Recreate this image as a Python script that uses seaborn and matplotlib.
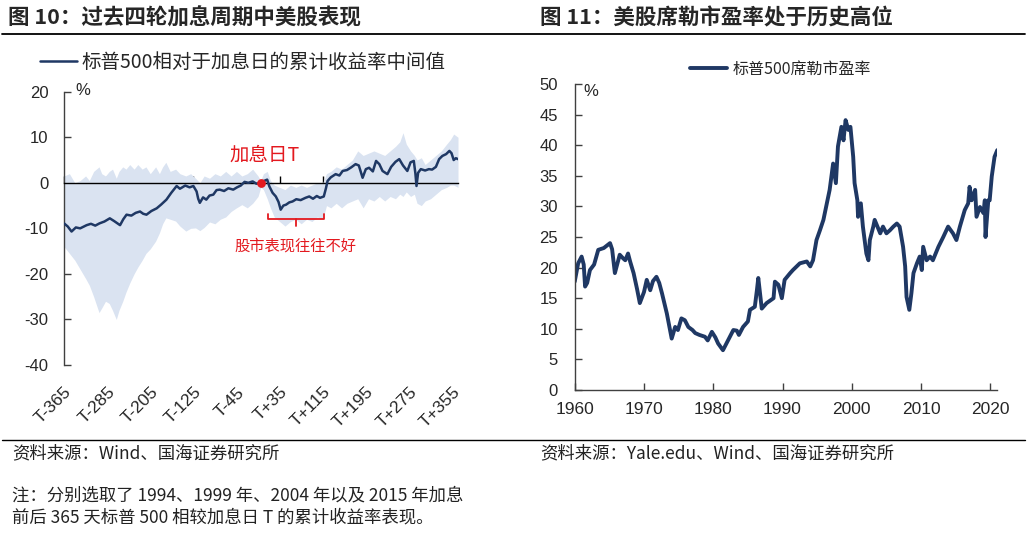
import matplotlib
matplotlib.use('Agg')
import matplotlib.pyplot as plt
import seaborn as sns
from matplotlib.lines import Line2D
from matplotlib.font_manager import FontProperties

# ---- left chart: S&P 500 cumulative return around rate-hike day (median of 4 cycles) ----
med_days = [-365, -358, -351, -343, -335, -323, -315, -307, -299, -290, -280, -272, -261,
            -255, -249, -240, -232, -224, -218, -212, -203, -193, -185, -175, -166, -156,
            -150, -147, -140, -132, -125, -119, -116, -113, -107, -101, -95, -88, -82, -76,
            -68, -60, -51, -44, -37, -30, -23, -15, -8, 0, 6, 12, 16, 22, 28, 33, 37, 42,
            47, 53, 59, 66, 74, 83, 90, 97, 104, 110, 117, 121, 124, 130, 139, 146, 152,
            160, 168, 176, 182, 189, 195, 201, 208, 214, 220, 226, 235, 242, 250, 257, 264,
            272, 278, 284, 287, 289, 292, 297, 305, 312, 318, 325, 331, 337, 344, 350, 354,
            358, 362, 366]
med_vals = [-8.9, -9.6, -10.7, -9.8, -10.0, -9.3, -9.0, -9.4, -8.9, -8.5, -7.8, -8.4, -9.3,
            -8.0, -7.0, -7.2, -6.6, -6.3, -6.8, -7.0, -6.2, -5.6, -4.8, -3.7, -2.2, -0.7,
            -1.3, -1.1, -0.6, -1.0, -0.7, -1.9, -3.5, -4.4, -3.2, -3.7, -2.8, -2.6, -1.6, -1.5,
            -1.8, -1.2, -1.5, -1.0, -0.6, 0.2, 0.0, 0.3, -0.2, 0.0, 0.4, 0.7, -0.8, -2.2, -3.0,
            -4.2, -5.9, -5.0, -4.8, -4.3, -4.1, -3.6, -3.8, -3.3, -3.0, -3.5, -2.9, -3.3, -3.0,
            -1.2, 0.4, 1.2, 1.9, 1.6, 2.6, 2.8, 3.4, 4.1, 3.8, 1.1, 3.0, 3.3, 2.5, 4.8, 4.1,
            2.6, 1.9, 3.5, 4.6, 5.2, 3.8, 2.6, 4.5, 4.8, 2.0, -0.7, 2.2, 3.0, 2.7, 3.0, 2.9,
            3.5, 5.2, 5.9, 6.3, 7.0, 6.5, 5.0, 5.4, 5.2]

band_days = [-365, -355, -345, -335, -325, -318, -310, -300, -295, -288, -281, -275, -268,
             -263, -256, -250, -243, -235, -228, -220, -213, -205, -195, -188, -182, -176,
             -168, -158, -150, -139, -130, -121, -113, -105, -95, -85, -75, -65, -55, -45,
             -35, -25, -15, -5, 0, 5, 12, 18, 25, 35, 45, 55, 65, 75, 85, 95, 105, 115, 122,
             130, 140, 150, 160, 170, 180, 190, 200, 210, 220, 230, 240, 250, 258, 264, 270,
             278, 285, 290, 298, 305, 315, 325, 335, 345, 352, 358, 366]
band_hi = [1.5, 2.0, 0.0, 0.5, 1.5, 0.5, 2.5, 3.5, 2.0, 1.5, 2.5, 3.0, 1.0, 2.5, 3.5, 3.0,
           4.0, 3.0, 4.0, 3.0, 3.5, 2.0, 3.5, 2.0, 3.5, 4.5, 2.5, 3.0, 2.0, 1.5, 2.0, 1.0,
           0.0, 1.5, 1.0, 2.0, 1.5, 2.5, 1.5, 2.5, 1.5, 2.0, 3.0, 1.5, 0.5, 2.0, 2.5, 0.5,
           -0.5, -1.0, -1.5, -0.5, -1.0, -0.5, -1.0, -0.5, 0.0, 0.0, 2.0, 2.5, 3.5, 3.0, 4.0,
           5.0, 7.0, 6.0, 6.5, 7.0, 6.5, 6.0, 7.0, 8.0, 9.0, 11.0, 8.5, 7.0, 6.0, 5.0, 5.5,
           4.0, 5.0, 6.0, 7.0, 8.5, 9.5, 10.7, 10.0]
band_lo = [-14.0, -15.5, -17.0, -19.0, -21.0, -22.5, -25.0, -28.5, -27.5, -26.0, -26.5, -28.0,
           -30.0, -28.0, -26.0, -24.0, -22.0, -20.0, -18.5, -17.0, -15.5, -14.5, -12.8, -11.0,
           -9.0, -7.7, -8.0, -8.4, -9.5, -10.6, -10.0, -9.9, -10.5, -9.8, -8.6, -9.0, -8.0,
           -7.5, -6.3, -5.5, -4.8, -5.5, -4.5, -3.0, -1.0, -1.5, -3.5, -5.5, -7.5, -8.5, -9.5,
           -8.5, -8.0, -9.0, -8.0, -8.5, -7.5, -8.0, -5.0, -5.5, -4.5, -5.5, -4.5, -4.0, -3.5,
           -5.5, -3.5, -4.0, -3.0, -4.0, -3.0, -3.5, -2.5, -3.0, -2.0, -3.0, -2.5, -4.5, -5.0,
           -4.0, -3.5, -2.5, -1.5, -1.0, -0.5, -0.5, -1.0]

left_xticks = [-365, -285, -205, -125, -45, 35, 115, 195, 275, 355]
left_xlabels = ['T-365', 'T-285', 'T-205', 'T-125', 'T-45', 'T+35', 'T+115', 'T+195',
                'T+275', 'T+355']

# ---- right chart: Shiller CAPE ----
pe_year = [1960.0, 1960.5, 1961.0, 1961.3, 1961.5, 1961.8, 1962.2, 1962.8, 1963.4, 1964.2,
           1965.1, 1965.4, 1965.8, 1966.5, 1967.0, 1967.3, 1967.7, 1968.0, 1968.5, 1969.0,
           1969.4, 1970.0, 1970.4, 1970.9, 1971.3, 1971.8, 1972.2, 1972.6, 1973.3, 1974.0,
           1974.5, 1974.9, 1975.4, 1975.9, 1976.4, 1977.0, 1977.4, 1978.0, 1978.8, 1979.2,
           1979.8, 1980.3, 1980.7, 1981.4, 1982.0, 1982.4, 1982.9, 1983.4, 1983.7, 1984.3,
           1985.0, 1985.3, 1986.0, 1986.3, 1986.5, 1987.0, 1987.7, 1988.7, 1988.9, 1989.4,
           1989.9, 1990.3, 1991.1, 1991.5, 1992.5, 1993.5, 1994.0, 1994.4, 1994.9, 1995.4,
           1995.9, 1996.4, 1996.8, 1997.3, 1997.7, 1998.0, 1998.5, 1998.8, 1999.1, 1999.5,
           1999.8, 2000.2, 2000.4, 2000.8, 2000.9, 2001.3, 2001.6, 2002.1, 2002.4, 2002.6,
           2003.1, 2003.3, 2004.1, 2004.5, 2005.0, 2005.5, 2006.0, 2006.5, 2006.9, 2007.4,
           2007.7, 2007.9, 2008.3, 2008.6, 2008.9, 2009.4, 2009.8, 2010.1, 2010.3, 2010.8,
           2011.3, 2011.7, 2012.5, 2013.2, 2013.9, 2014.6, 2015.1, 2015.6, 2016.3, 2016.8,
           2017.0, 2017.3, 2017.8, 2018.0, 2018.5, 2019.0, 2019.2, 2019.3, 2019.7, 2019.9,
           2020.2, 2020.4, 2020.6, 2021.0]
pe_val = [17.7, 20.7, 21.8, 20.5, 16.9, 17.5, 19.6, 20.5, 22.9, 23.2,
          24.0, 23.0, 19.1, 22.1, 21.5, 21.2, 22.3, 21.0, 19.1, 16.5,
          14.2, 16.0, 18.0, 16.3, 17.8, 18.5, 17.5, 15.8, 12.5, 8.4,
          10.3, 9.8, 11.7, 11.4, 10.3, 9.8, 9.3, 9.0, 8.7, 8.1,
          9.5, 8.6, 7.6, 6.5, 7.8, 8.7, 9.8, 9.7, 9.0, 10.3,
          11.2, 13.1, 13.6, 16.3, 18.3, 13.3, 14.2, 15.0, 17.7, 17.2,
          15.0, 18.0, 19.1, 19.6, 20.7, 21.0, 20.2, 21.2, 24.5, 26.1,
          27.8, 30.5, 32.7, 37.0, 33.8, 39.8, 43.0, 40.8, 44.1, 42.5,
          43.0, 38.1, 33.8, 31.0, 28.3, 30.5, 26.7, 22.3, 21.2, 24.5,
          26.7, 27.8, 25.6, 26.7, 25.6, 26.1, 26.7, 27.2, 26.7, 23.4,
          20.2, 15.2, 13.1, 15.8, 19.1, 20.7, 21.8, 19.6, 23.4, 21.2,
          21.8, 21.2, 23.4, 25.0, 26.7, 25.6, 24.5, 26.7, 29.4, 30.5,
          33.2, 31.0, 32.7, 28.3, 29.9, 28.9, 31.0, 25.0, 31.0, 31.0,
          34.9, 36.5, 38.1, 39.2]

right_xticks = [1960, 1970, 1980, 1990, 2000, 2010, 2020]
right_yticks = [0, 5, 10, 15, 20, 25, 30, 35, 40, 45, 50]

NAVY = '#1f3864'
BAND = '#dae3f1'
RED = '#e3191f'
CJK = 'Noto Sans CJK SC'

sns.set_theme(style='white')
plt.rcParams['font.family'] = ['Liberation Sans', CJK]
plt.rcParams['axes.unicode_minus'] = False

W, H = 1032, 535
fig = plt.figure(figsize=(W / 100, H / 100), dpi=100)

# ---------- left axes ----------
ax1 = fig.add_axes([64 / W, 1 - 365 / H, 394 / W, 273.3 / H])
ax1.fill_between(band_days, band_lo, band_hi, color=BAND, lw=0, zorder=1)
sns.lineplot(x=med_days, y=med_vals, ax=ax1, color=NAVY, lw=1.8, zorder=3,
             label='标普500相对于加息日的累计收益率中间值')
t0 = med_days.index(0)
ax1.scatter([med_days[t0]], [med_vals[t0]], s=40, color=RED, zorder=4, linewidths=0)

ax1.set_xlim(-365, 366)
ax1.set_ylim(-40, 20)
ax1.set_yticks(range(-40, 21, 10))
for s in ['top', 'right']:
    ax1.spines[s].set_visible(False)
ax1.spines['left'].set_color('#404040')
ax1.spines['left'].set_linewidth(1.0)
ax1.spines['bottom'].set_position(('data', 0))
ax1.spines['bottom'].set_color('black')
ax1.spines['bottom'].set_linewidth(1.0)
ax1.set_xticks(left_xticks)
ax1.tick_params(axis='x', direction='in', length=5, width=1, color='black',
                labelbottom=False, bottom=True)
ax1.tick_params(axis='y', direction='in', length=5, width=1, color='#404040',
                labelsize=12, pad=11, left=True)
ax1.set_xlabel('')
ax1.set_ylabel('')

sec = ax1.secondary_xaxis('bottom')
sec.set_ticks(left_xticks, labels=left_xlabels)
sec.spines['bottom'].set_visible(False)
sec.tick_params(axis='x', length=0, labelsize=12.5, pad=14)
for lbl in sec.get_xticklabels():
    lbl.set_rotation(45)
    lbl.set_ha('right')
    lbl.set_rotation_mode('anchor')

ax1.text(0.028, 1.006, '%', transform=ax1.transAxes, fontsize=12, va='center', ha='left')

ax1.text(7, 6.0, '加息日T', color=RED, fontsize=14, ha='center', va='center',
         family=[CJK, 'DejaVu Sans'])
ax1.plot([13, 13, 117, 117], [-6.9, -8.05, -8.05, -6.9], color=RED, lw=1.3)
ax1.plot([65, 65], [-8.05, -9.5], color=RED, lw=1.3)
ax1.text(65, -13.9, '股市表现往往不好', color=RED, fontsize=11, ha='center', va='center',
         family=[CJK, 'DejaVu Sans'])

ax1.legend(loc='center left', bbox_to_anchor=(40 / W, 1 - 62 / H), bbox_transform=fig.transFigure,
           frameon=False, handlelength=1.9, handletextpad=0.25, borderpad=0, borderaxespad=0,
           prop=FontProperties(family=CJK, size=14))

# ---------- right axes ----------
ax2 = fig.add_axes([574.7 / W, 1 - 390 / H, 422.6 / W, 306 / H])
sns.lineplot(x=pe_year, y=pe_val, ax=ax2, color=NAVY, lw=2.8, label='标普500席勒市盈率')
ax2.set_xlim(1960, 2021)
ax2.set_ylim(0, 50)
ax2.set_xticks(right_xticks)
ax2.set_yticks(right_yticks)
for s in ['top', 'right']:
    ax2.spines[s].set_visible(False)
for s in ['left', 'bottom']:
    ax2.spines[s].set_color('#404040')
    ax2.spines[s].set_linewidth(1.0)
ax2.tick_params(axis='x', direction='in', length=5, width=1, color='#404040',
                labelsize=12.5, pad=9, bottom=True)
ax2.tick_params(axis='y', direction='in', length=5, width=1, color='#404040',
                labelsize=12, pad=12, left=True)
ax2.set_xlabel('')
ax2.set_ylabel('')
ax2.text(0.02, 0.974, '%', transform=ax2.transAxes, fontsize=12, va='center', ha='left')
ax2.legend(loc='center left', bbox_to_anchor=(690 / W, 1 - 69 / H), bbox_transform=fig.transFigure,
           frameon=False, handlelength=2.3, handletextpad=0.37, borderpad=0, borderaxespad=0,
           prop=FontProperties(family=CJK, size=11.5))

# ---------- titles, rules, footers ----------
fig.text(8 / W, 1 - 18 / H, '图 10：过去四轮加息周期中美股表现', fontsize=15.5, fontweight='bold',
         va='center', ha='left', family=[CJK, 'DejaVu Sans'])
fig.text(540 / W, 1 - 18 / H, '图 11：美股席勒市盈率处于历史高位', fontsize=15.5, fontweight='bold',
         va='center', ha='left', family=[CJK, 'DejaVu Sans'])
fig.add_artist(Line2D([2 / W, 1025 / W], [1 - 34 / H, 1 - 34 / H], color='black', lw=1.3,
                      transform=fig.transFigure))
fig.add_artist(Line2D([2 / W, 1025 / W], [1 - 440 / H, 1 - 440 / H], color='black', lw=1.0,
                      transform=fig.transFigure))

foot = dict(fontsize=12.5, va='center', ha='left', family=[CJK, 'DejaVu Sans'], color='#222222')
fig.text(12 / W, 1 - 453 / H, '资料来源：Wind、国海证券研究所', **foot)
fig.text(540 / W, 1 - 453 / H, '资料来源：Yale.edu、Wind、国海证券研究所', **foot)
fig.text(12 / W, 1 - 495 / H, '注：分别选取了 1994、1999 年、2004 年以及 2015 年加息', **foot)
fig.text(12 / W, 1 - 518 / H, '前后 365 天标普 500 相较加息日 T 的累计收益率表现。', **foot)

fig.savefig('out.png', dpi=100)
